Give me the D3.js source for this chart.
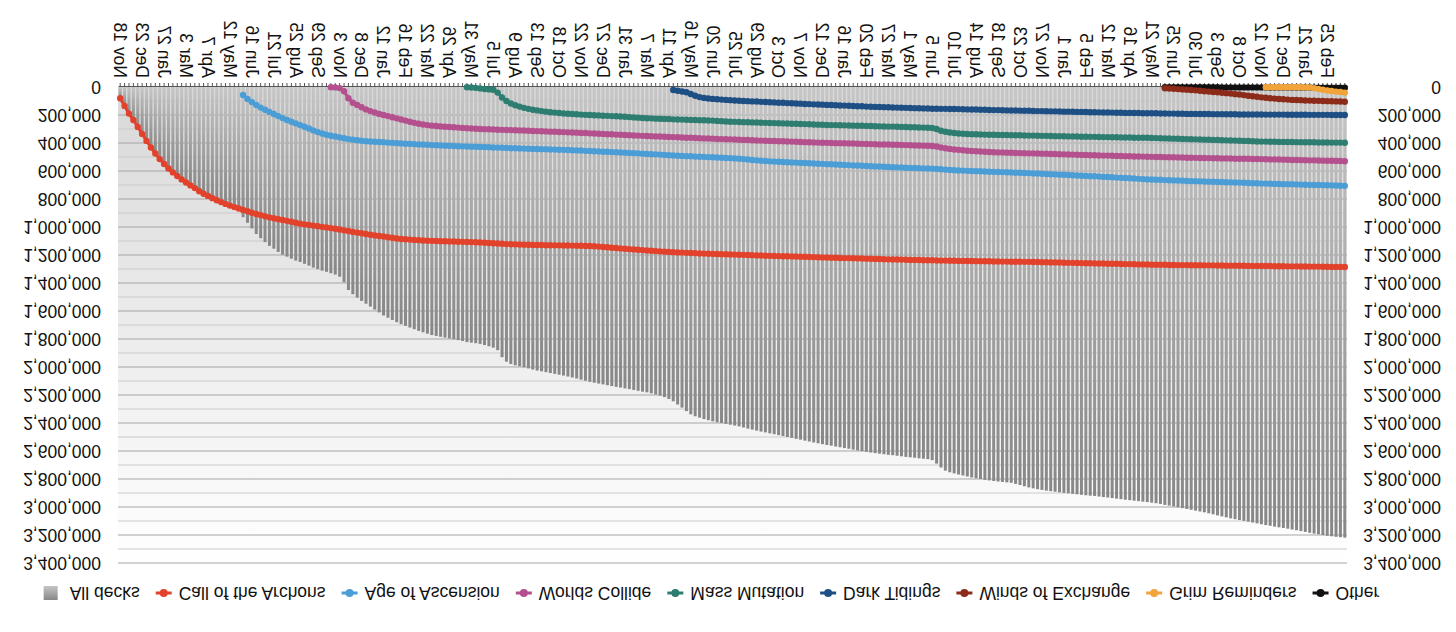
<!DOCTYPE html>
<html>
<head>
<meta charset="utf-8">
<script src="https://cdn.jsdelivr.net/npm/d3@7"></script>
<style>
  body { margin: 0; background: #fff; }
  svg { display: block; }
</style>
</head>
<body>
<svg id="chart" width="1456" height="632"></svg>
<script>

// Weekly cumulative deck counts, in thousands. One value per week, starting at the
// week given in seriesStart (index into weeks).

const allDecksK = [
  80,135,190,236,285,335,385,432,475,515, 550,582,610,636,660,682,703,722,745,762,
  778,794,809,822,835,847,858,868,930,970, 1010,1050,1080,1108,1135,1155,1178,1198,1212,1226,
  1240,1250,1263,1276,1290,1302,1312,1320,1330,1340, 1355,1395,1450,1480,1505,1528,1548,1568,1590,1610,
  1632,1648,1664,1680,1694,1706,1718,1730,1742,1752, 1762,1772,1778,1784,1790,1796,1802,1808,1814,1822,
  1826,1830,1835,1843,1852,1862,1880,1930,1962,1978, 1988,1995,2002,2010,2018,2025,2031,2037,2043,2049,
  2055,2061,2068,2075,2082,2090,2098,2106,2112,2118, 2124,2130,2136,2142,2147,2153,2158,2164,2170,2176,
  2181,2188,2196,2204,2215,2228,2245,2268,2290,2315, 2338,2352,2362,2372,2380,2388,2395,2400,2406,2412,
  2418,2424,2432,2440,2447,2454,2461,2467,2474,2480, 2487,2493,2500,2506,2513,2519,2526,2532,2539,2545,
  2551,2557,2562,2568,2573,2579,2584,2590,2596,2601, 2606,2611,2615,2619,2623,2627,2630,2634,2638,2642,
  2645,2648,2652,2655,2658,2665,2690,2718,2740,2752, 2760,2768,2775,2782,2789,2795,2800,2806,2810,2814,
  2818,2821,2824,2827,2835,2843,2852,2860,2867,2873, 2878,2883,2887,2891,2895,2899,2902,2906,2909,2913,
  2916,2919,2921,2925,2929,2932,2936,2940,2944,2948, 2951,2955,2958,2962,2965,2969,2973,2978,2985,2990,
  2996,3002,3008,3014,3020,3026,3032,3038,3045,3052, 3060,3067,3074,3081,3087,3093,3099,3105,3111,3117,
  3123,3129,3134,3140,3145,3150,3155,3161,3166,3172, 3178,3184,3190,3195,3200,3205,3209,3213,3216,3219
]

const cotaK = [
  80,135,190,236,285,335,385,432,475,515, 550,582,610,636,660,682,703,722,745,762,
  778,794,809,822,835,847,858,868,878,888, 898,907,915,924,931,938,944,950,956,962,
  970,976,981,985,990,994,999,1003,1008,1013, 1018,1024,1029,1035,1040,1045,1050,1055,1060,1064,
  1068,1073,1077,1082,1086,1088,1090,1092,1094,1096, 1098,1099,1100,1101,1102,1103,1104,1105,1106,1107,
  1108,1109,1110,1112,1114,1116,1118,1120,1122,1123, 1124,1125,1126,1127,1128,1129,1129,1130,1130,1131,
  1131,1132,1132,1133,1134,1134,1135,1136,1138,1140, 1143,1145,1148,1150,1153,1155,1158,1160,1163,1165,
  1168,1170,1172,1174,1176,1178,1180,1182,1183,1185, 1186,1187,1189,1190,1191,1192,1193,1194,1195,1196,
  1197,1198,1199,1200,1201,1203,1204,1205,1206,1207, 1208,1209,1209,1210,1211,1212,1213,1214,1215,1216,
  1217,1218,1219,1220,1221,1222,1222,1223,1224,1225, 1226,1227,1228,1229,1230,1231,1232,1232,1233,1234,
  1235,1235,1236,1237,1238,1238,1239,1240,1240,1241, 1241,1242,1242,1243,1243,1244,1244,1245,1245,1246,
  1246,1247,1247,1248,1248,1248,1249,1249,1250,1250, 1251,1252,1253,1253,1254,1255,1256,1256,1257,1258,
  1259,1259,1260,1261,1261,1262,1263,1263,1264,1265, 1265,1266,1267,1267,1268,1269,1269,1270,1270,1271,
  1271,1272,1272,1272,1273,1273,1273,1274,1274,1274, 1275,1275,1276,1276,1276,1277,1277,1278,1278,1278,
  1279,1279,1279,1280,1280,1280,1281,1281,1281,1282, 1282,1283,1283,1283,1284,1284,1285,1285,1285,1286
]

const aoaK = [
  57,85,108,128,147,162,178,193,208,222, 236,248,260,272,284,296,310,322,332,341,
  348,354,360,366,372,376,380,384,387,389, 391,393,395,397,399,401,403,405,406,408,
  410,411,413,415,416,417,419,420,421,423, 424,425,426,427,428,429,430,432,433,434,
  435,437,438,439,440,441,442,443,444,445, 446,447,448,449,450,452,453,454,456,457,
  459,460,462,463,465,466,468,469,471,472, 474,476,478,480,481,483,485,487,489,491,
  492,494,495,497,498,499,501,502,504,505, 507,508,510,512,515,518,521,524,527,529,
  531,533,534,536,537,539,540,542,543,545, 546,548,549,551,552,554,555,557,558,560,
  561,563,564,566,567,568,570,571,573,574, 575,577,578,579,580,581,582,583,585,587,
  590,592,594,596,597,599,600,601,602,604, 605,606,607,608,609,610,612,613,614,615,
  617,618,620,621,623,624,626,627,629,630, 632,634,635,637,638,640,642,643,645,647,
  649,650,652,654,656,658,660,661,662,663, 665,666,667,668,669,671,672,673,674,675,
  676,677,678,679,680,681,682,683,684,686, 687,688,690,690,691,692,693,694,694,695,
  696,697,698,699,700,700,701,702,703,704, 705,706
]

const wcK = [
  2,3,8,30,80,112,128,145,160,172, 182,192,200,208,216,224,232,240,248,256,
  263,268,272,276,279,282,284,286,288,290, 292,294,296,298,300,301,302,303,305,306,
  307,308,309,310,311,312,314,315,316,317, 319,320,321,322,324,325,326,328,329,331,
  332,334,335,337,338,340,341,343,344,346, 347,349,350,351,353,354,355,357,358,359,
  361,362,363,364,366,367,368,369,371,372, 373,374,375,377,378,379,380,382,383,384,
  385,386,387,388,389,390,391,393,394,395, 396,397,398,399,400,401,401,402,403,404,
  405,406,407,408,409,410,411,411,412,413, 414,415,416,417,418,419,420,421,425,432,
  437,442,446,449,452,455,457,459,461,463, 464,466,467,468,469,470,471,472,473,474,
  474,475,476,477,478,479,480,481,482,483, 484,485,486,487,488,489,490,490,491,492,
  493,494,495,496,496,497,498,499,500,500, 501,502,502,503,504,505,505,506,507,507,
  508,509,509,510,510,511,512,512,513,513, 514,514,515,516,517,517,518,519,520,521,
  521,522,523,524,524,525,526,527,527,528, 529,530
]

const mmK = [
  2,4,6,10,14,17,20,40,75,100, 118,130,140,149,156,162,167,172,176,180,
  183,186,189,191,193,195,197,199,200,202, 203,205,206,208,209,211,213,215,217,219,
  221,223,224,226,227,228,229,231,232,233, 234,235,236,237,238,239,240,242,244,246,
  248,249,250,251,252,253,254,255,256,257, 258,259,260,261,262,263,264,265,266,268,
  269,270,271,272,272,273,274,275,276,277, 277,278,279,280,281,282,283,283,284,285,
  286,287,288,289,290,291,293,300,312,320, 325,329,332,334,336,337,338,339,340,341,
  341,342,343,343,344,345,345,346,347,347, 348,349,349,350,351,351,352,353,353,354,
  355,355,356,356,357,358,358,359,359,360, 361,361,362,362,363,363,364,365,366,367,
  368,369,370,371,372,373,374,375,376,377, 378,379,380,381,382,383,384,385,386,387,
  389,390,390,391,391,392,392,393,393,394, 394,395,395,395,396,396,396,397,397,397,
  398
]

const dtK = [
  21,27,32,38,50,62,72,78,82,85, 88,90,92,94,96,98,100,101,103,104,
  106,107,109,110,112,113,115,116,118,119, 121,122,124,125,126,128,129,130,132,133,
  134,136,137,138,140,141,142,143,144,145, 146,147,148,149,150,151,152,153,154,155,
  155,156,156,157,157,158,159,160,161,161, 162,163,164,165,165,166,167,168,168,169,
  170,170,171,172,172,173,174,174,175,176, 176,177,178,178,179,180,180,181,182,182,
  183,184,184,185,185,186,186,187,187,188, 188,189,189,190,190,191,191,192,192,192,
  193,193,193,194,194,194,195,195,195,196, 196,196,196,196,196,197,197,197,197,197,
  198,198,198,198,198,199,199,199,199,199, 200,200,200,200
]

const woeK = [
  9,11,13,15,17,19,21,24,27,30, 33,36,38,41,44,47,51,54,58,62,
  66,70,74,77,80,83,86,88,90,92, 93,94,96,97,98,99,100,101,102,103,
  104,105
]

const grK = [
  1,1,2,2,2,2,2,2,2,3, 4,8,14,20,25,29,33,36,40
]

const otherK = [
  1,1,1,1,1,2,2,2,2,2, 2,2,2,3,3,3,3,3,3,3,
  3,3,3,3,4,4,4,4,4,4, 4,4,4,4,5,5,5,5,5,5,
  5,5
]

const seriesNames = ["Call of the Archons", "Age of Ascension", "Worlds Collide", "Mass Mutation",
  "Dark Tidings", "Winds of Exchange", "Grim Reminders", "Other"]
const seriesStart = [0, 28, 48, 79, 126, 238, 261, 238]
const seriesValues = [cotaK, aoaK, wcK, mmK, dtK, woeK, grK, otherK]
const seriesColors = ["#e2422b", "#4b9dd6", "#b4508e", "#2e7d71", "#1d4f84", "#8c2b19", "#f2a33a", "#111111"]

// weekly categories, Sunday Nov 18 2018 .. Sunday Mar 24 2024
const weeks = d3.timeWeek.range(new Date(2018, 10, 18), new Date(2024, 2, 25))

// a label on every fifth week
const dateLabels = ["Nov 18", "Dec 23", "Jan 27", "Mar 3", "Apr 7", "May 12", "Jun 16", "Jul 21",
  "Aug 25", "Sep 29", "Nov 3", "Dec 8", "Jan 12", "Feb 16", "Mar 22", "Apr 26", "May 31", "Jul 5",
  "Aug 9", "Sep 13", "Oct 18", "Nov 22", "Dec 27", "Jan 31", "Mar 7", "Apr 11", "May 16", "Jun 20",
  "Jul 25", "Aug 29", "Oct 3", "Nov 7", "Dec 12", "Jan 16", "Feb 20", "Mar 27", "May 1", "Jun 5",
  "Jul 10", "Aug 14", "Sep 18", "Oct 23", "Nov 27", "Jan 1", "Feb 5", "Mar 12", "Apr 16", "May 21",
  "Jun 25", "Jul 30", "Sep 3", "Oct 8", "Nov 12", "Dec 17", "Jan 21", "Feb 25"]

const yTickValues = [0, 200000, 400000, 600000, 800000, 1000000, 1200000, 1400000, 1600000,
  1800000, 2000000, 2200000, 2400000, 2600000, 2800000, 3000000, 3200000, 3400000]
const yMinorValues = [100000, 300000, 500000, 700000, 900000, 1100000, 1300000, 1500000, 1700000,
  1900000, 2100000, 2300000, 2500000, 2700000, 2900000, 3100000, 3300000]

// layout

const outerWidth = 1456
const outerHeight = 632
const plotLeft = 118
const plotRight = 1347
const plotTop = 69
const plotBottom = 545
const fontFamily = "'Liberation Sans', Arial, Helvetica, sans-serif"
const fontSize = 17.5

const svg = d3.select("#chart")
  .attr("width", outerWidth)
  .attr("height", outerHeight)

// the whole picture is mirrored top to bottom, so draw it normally and flip it
const root = svg.append("g")
  .attr("transform", "translate(0," + outerHeight + ") scale(1,-1)")
  .attr("font-family", fontFamily)
  .attr("font-size", fontSize)

const defs = svg.append("defs")

const bgGrad = defs.append("linearGradient")
  .attr("id", "bgGrad")
  .attr("gradientUnits", "userSpaceOnUse")
  .attr("x1", 0).attr("x2", 0)
  .attr("y1", plotBottom).attr("y2", plotTop)
bgGrad.append("stop").attr("offset", 0).attr("stop-color", "#d8d8d8")
bgGrad.append("stop").attr("offset", 1).attr("stop-color", "#ffffff")

const barGrad = defs.append("linearGradient")
  .attr("id", "barGrad")
  .attr("x1", 0).attr("x2", 0)
  .attr("y1", 1).attr("y2", 0)
barGrad.append("stop").attr("offset", 0).attr("stop-color", "#c6c6c6")
barGrad.append("stop").attr("offset", 1).attr("stop-color", "#878787")

// scales

const xScale = d3.scaleBand()
  .domain(weeks)
  .range([plotLeft, plotRight])
  .paddingInner(0.32)
  .paddingOuter(0.16)

const yScale = d3.scaleLinear()
  .domain([0, 3400000])
  .range([plotBottom, plotTop])

const bw = xScale.bandwidth()
const cx = d => xScale(d) + bw / 2

// plot background and gridlines

root.append("rect")
  .attr("x", plotLeft)
  .attr("y", plotTop)
  .attr("width", plotRight - plotLeft)
  .attr("height", plotBottom - plotTop)
  .attr("fill", "url(#bgGrad)")

root.append("g").selectAll("line")
  .data(yMinorValues)
  .join("line")
  .attr("x1", plotLeft).attr("x2", plotRight)
  .attr("y1", d => yScale(d)).attr("y2", d => yScale(d))
  .attr("stroke", "#cbcbcb")
  .attr("stroke-width", 1)

root.append("g").selectAll("line")
  .data(yTickValues.slice(1))
  .join("line")
  .attr("x1", plotLeft).attr("x2", plotRight)
  .attr("y1", d => yScale(d)).attr("y2", d => yScale(d))
  .attr("stroke", "#a5a5a5")
  .attr("stroke-width", 1)

// All decks bars

root.append("g").selectAll("rect")
  .data(allDecksK.map((v, i) => ({ week: weeks[i], value: v * 1000 })))
  .join("rect")
  .attr("x", d => xScale(d.week))
  .attr("width", bw)
  .attr("y", d => yScale(d.value))
  .attr("height", d => yScale(0) - yScale(d.value))
  .attr("fill", "url(#barGrad)")

// category axis

const xAxis = root.append("g")
  .attr("transform", "translate(0," + plotBottom + ")")
  .call(d3.axisBottom(xScale)
    .tickSize(4)
    .tickSizeOuter(0)
    .tickFormat((d, i) => i % 5 === 0 ? dateLabels[i / 5] : ""))
  .attr("font-family", fontFamily)
  .attr("font-size", fontSize)

xAxis.select(".domain").attr("stroke", "#555")
xAxis.selectAll(".tick line").attr("stroke", "#555")
xAxis.selectAll(".tick text")
  .attr("transform", "rotate(90)")
  .attr("x", 9)
  .attr("y", 0)
  .attr("dy", "0.35em")
  .attr("fill", "#111")
  .style("text-anchor", "start")

// value axes, left and right

const yAxis = d3.axisLeft(yScale)
  .tickValues(yTickValues)
  .tickFormat(d3.format(","))
  .tickSize(0)

const yLeft = root.append("g")
  .attr("transform", "translate(" + plotLeft + ",0)")
  .call(yAxis.tickPadding(17))
const yRight = root.append("g")
  .attr("transform", "translate(1441,0)")
  .call(yAxis.tickPadding(0))

;[yLeft, yRight].forEach(ax => {
  ax.attr("font-family", fontFamily).attr("font-size", fontSize)
  ax.select(".domain").remove()
  ax.selectAll("text").attr("fill", "#111")
})

// set lines with markers, last series first so earlier sets sit on top

const line = d3.line()
  .x(d => cx(d.week))
  .y(d => yScale(d.value))

for (let k = seriesNames.length - 1; k >= 0; k--) {
  const pts = seriesValues[k].map((v, j) => ({ week: weeks[seriesStart[k] + j], value: v * 1000 }))
  const g = root.append("g")
  g.append("path")
    .datum(pts)
    .attr("d", line)
    .attr("fill", "none")
    .attr("stroke", seriesColors[k])
    .attr("stroke-width", 3)
  g.selectAll("circle")
    .data(pts)
    .join("circle")
    .attr("cx", d => cx(d.week))
    .attr("cy", d => yScale(d.value))
    .attr("r", 3.2)
    .attr("fill", seriesColors[k])
}

// legend

const legendItems = [{ name: "All decks", color: null }]
  .concat(seriesNames.map((n, k) => ({ name: n, color: seriesColors[k] })))

const legend = root.append("g")
let cursor = 0
const itemGap = 12

legendItems.forEach(item => {
  const g = legend.append("g").attr("transform", "translate(" + cursor + ",0)")
  let textX = 27
  if (item.color === null) {
    g.append("rect")
      .attr("x", 3).attr("y", -7)
      .attr("width", 14).attr("height", 14)
      .attr("fill", "url(#barGrad)")
    textX = 29
  } else {
    g.append("line")
      .attr("x1", 4).attr("x2", 20)
      .attr("stroke", item.color)
      .attr("stroke-width", 3)
    g.append("circle")
      .attr("cx", 12)
      .attr("r", 4)
      .attr("fill", item.color)
  }
  const t = g.append("text")
    .attr("x", textX)
    .attr("dy", "0.35em")
    .attr("fill", "#111")
    .text(item.name)
  cursor += textX + t.node().getComputedTextLength() + itemGap
})

legend.attr("transform", "translate(" + (710 - (cursor - itemGap) / 2) + ",39)")

</script>
</body>
</html>
